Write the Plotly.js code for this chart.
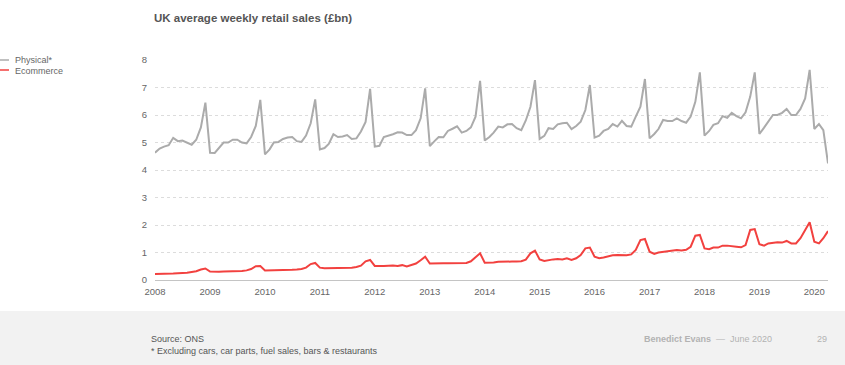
<!DOCTYPE html>
<html>
<head>
<meta charset="utf-8">
<script src="https://cdn.plot.ly/plotly-3.0.1.min.js"></script>
<style>html,body{margin:0;padding:0;background:#fff;}#chart{width:845px;height:365px;}</style>
</head>
<body>
<div id="chart"></div>
<script>
// Monthly series, Jan 2008 – Apr 2020 (£bn, average weekly)
const startYear = 2008;
const physical = [
  4.63, 4.78, 4.85, 4.90, 5.17, 5.05, 5.07, 4.98, 4.92, 5.10, 5.55, 6.45,
  4.63, 4.62, 4.80, 5.00, 5.00, 5.10, 5.10, 5.00, 4.97, 5.20, 5.60, 6.55,
  4.57, 4.75, 5.00, 5.02, 5.13, 5.18, 5.20, 5.05, 5.02, 5.25, 5.70, 6.57,
  4.75, 4.80, 4.95, 5.30, 5.20, 5.22, 5.27, 5.13, 5.15, 5.40, 5.75, 6.95,
  4.85, 4.88, 5.20, 5.24, 5.30, 5.37, 5.36, 5.27, 5.27, 5.45, 5.88, 6.97,
  4.87, 5.05, 5.20, 5.19, 5.42, 5.50, 5.59, 5.36, 5.42, 5.55, 5.94, 7.24,
  5.07, 5.20, 5.36, 5.58, 5.55, 5.66, 5.67, 5.52, 5.45, 5.80, 6.30, 7.27,
  5.13, 5.24, 5.52, 5.49, 5.66, 5.70, 5.72, 5.49, 5.60, 5.76, 6.18, 7.09,
  5.18, 5.25, 5.42, 5.49, 5.67, 5.58, 5.79, 5.60, 5.58, 5.94, 6.30, 7.31,
  5.15, 5.31, 5.49, 5.82, 5.78, 5.78, 5.88, 5.78, 5.72, 5.94, 6.48, 7.55,
  5.25, 5.42, 5.64, 5.70, 5.96, 5.90, 6.08, 5.96, 5.88, 6.10, 6.67, 7.55,
  5.31, 5.54, 5.78, 6.00, 6.00, 6.08, 6.22, 6.00, 6.00, 6.22, 6.60, 7.64,
  5.49, 5.67, 5.45, 4.24
];
const ecommerce = [
  0.22, 0.22, 0.23, 0.23, 0.24, 0.25, 0.25, 0.26, 0.29, 0.32, 0.38, 0.42,
  0.31, 0.30, 0.30, 0.31, 0.31, 0.32, 0.33, 0.33, 0.35, 0.40, 0.50, 0.51,
  0.35, 0.35, 0.35, 0.36, 0.36, 0.37, 0.37, 0.38, 0.40, 0.45, 0.58, 0.62,
  0.45, 0.43, 0.43, 0.43, 0.44, 0.44, 0.45, 0.45, 0.47, 0.52, 0.68, 0.73,
  0.51, 0.50, 0.51, 0.52, 0.53, 0.51, 0.54, 0.49, 0.54, 0.60, 0.72, 0.85,
  0.60, 0.61, 0.60, 0.61, 0.61, 0.61, 0.61, 0.61, 0.62, 0.68, 0.84, 0.97,
  0.63, 0.63, 0.64, 0.66, 0.67, 0.68, 0.67, 0.67, 0.68, 0.74, 0.97, 1.07,
  0.75, 0.69, 0.73, 0.75, 0.76, 0.75, 0.79, 0.73, 0.79, 0.91, 1.15, 1.18,
  0.85, 0.79, 0.82, 0.87, 0.90, 0.91, 0.91, 0.90, 0.93, 1.09, 1.45, 1.49,
  1.03, 0.95, 1.00, 1.03, 1.05, 1.07, 1.09, 1.07, 1.10, 1.21, 1.61, 1.64,
  1.15, 1.12, 1.18, 1.18, 1.25, 1.25, 1.24, 1.21, 1.19, 1.27, 1.82, 1.85,
  1.30, 1.25, 1.33, 1.36, 1.37, 1.36, 1.42, 1.33, 1.33, 1.52, 1.82, 2.10,
  1.39, 1.33, 1.52, 1.78
];
const seriesNames = ["Physical*", "Ecommerce"];
const seriesColors = ["#ababab", "#f2413f"];
const yTicks = [0, 1, 2, 3, 4, 5, 6, 7, 8];
const titleText = "UK average weekly retail sales (£bn)";
const sourceText = "Source: ONS";
const noteText = "* Excluding cars, car parts, fuel sales, bars & restaurants";
const authorText = "Benedict Evans";
const dateText = "June 2020";
const pageText = "29";

function pad(n){return n<10?"0"+n:""+n;}
const months = physical.map((_, i) => {
  const y = startYear + Math.floor(i / 12);
  const m = (i % 12) + 1;
  return y + "-" + pad(m) + "-01";
});

// pixel -> paper helpers (plot area: x 155..828, y 60..280)
const L = 155, R = 828, T = 60, B = 280;
const px = p => (p - L) / (R - L);
const py = p => (B - p) / (B - T);

const font = "Liberation Sans, Arial, Helvetica, sans-serif";

const traces = [
  {x: months, y: physical, type: "scatter", mode: "lines", name: seriesNames[0],
   line: {color: seriesColors[0], width: 2}, showlegend: false, hoverinfo: "x+y"},
  {x: months, y: ecommerce, type: "scatter", mode: "lines", name: seriesNames[1],
   line: {color: seriesColors[1], width: 2}, showlegend: false, hoverinfo: "x+y"}
];

const layout = {
  width: 845, height: 365,
  margin: {l: L, r: 845 - R, t: T, b: 365 - B, pad: 0},
  paper_bgcolor: "#ffffff", plot_bgcolor: "#ffffff",
  font: {family: font, size: 10, color: "#666"},
  title: {text: "<b>" + titleText + "</b>", font: {family: font, size: 11.5, color: "#555"},
          xref: "container", yref: "container", x: 154/845, xanchor: "left", y: 1 - 18/365, yanchor: "middle"},
  xaxis: {type: "date", range: [months[0], months[months.length - 1]],
          dtick: "M12", tick0: "2008-01-01", tickformat: "%Y",
          showgrid: false, zeroline: false, showline: true, linecolor: "#c4c4c4", linewidth: 1,
          ticks: "", ticklabelstandoff: 3, tickfont: {family: font, size: 9.5, color: "#666"}, fixedrange: true},
  yaxis: {range: [0, 8], tickvals: yTicks, ticktext: yTicks.map(String),
          showgrid: true, gridcolor: "#dcdcdc", griddash: "dot", gridwidth: 1,
          zeroline: false, showline: false, ticks: "", ticklabelstandoff: 7,
          tickfont: {family: font, size: 9.5, color: "#666"}, fixedrange: true},
  shapes: [
    {type: "rect", xref: "paper", yref: "paper", x0: px(0), x1: px(845), y0: py(311), y1: py(366),
     fillcolor: "#f2f2f2", line: {width: 0}, layer: "below"},
    {type: "line", xref: "paper", yref: "paper", x0: px(0), x1: px(9), y0: py(60), y1: py(60),
     line: {color: seriesColors[0], width: 1.5}},
    {type: "line", xref: "paper", yref: "paper", x0: px(0), x1: px(9), y0: py(70), y1: py(70),
     line: {color: seriesColors[1], width: 1.5}}
  ],
  annotations: [
    {xref: "paper", yref: "paper", x: px(13), y: py(60), xanchor: "left", yanchor: "middle",
     text: seriesNames[0], showarrow: false, font: {family: font, size: 9, color: "#666"}},
    {xref: "paper", yref: "paper", x: px(13), y: py(70.5), xanchor: "left", yanchor: "middle",
     text: seriesNames[1], showarrow: false, font: {family: font, size: 9, color: "#666"}},
    {xref: "paper", yref: "paper", x: px(149), y: py(339), xanchor: "left", yanchor: "middle",
     text: sourceText, showarrow: false, font: {family: font, size: 9, color: "#555"}},
    {xref: "paper", yref: "paper", x: px(149), y: py(351), xanchor: "left", yanchor: "middle",
     text: noteText, showarrow: false, font: {family: font, size: 9, color: "#555"}},
    {xref: "paper", yref: "paper", x: px(642), y: py(339), xanchor: "left", yanchor: "middle",
     text: "<b>" + authorText + "</b>  —  " + dateText, showarrow: false, font: {family: font, size: 9, color: "#b3b3b3"}},
    {xref: "paper", yref: "paper", x: px(829), y: py(339), xanchor: "right", yanchor: "middle",
     text: pageText, showarrow: false, font: {family: font, size: 9, color: "#b3b3b3"}}
  ]
};

Plotly.newPlot("chart", traces, layout, {displayModeBar: false, staticPlot: true});
</script>
</body>
</html>
